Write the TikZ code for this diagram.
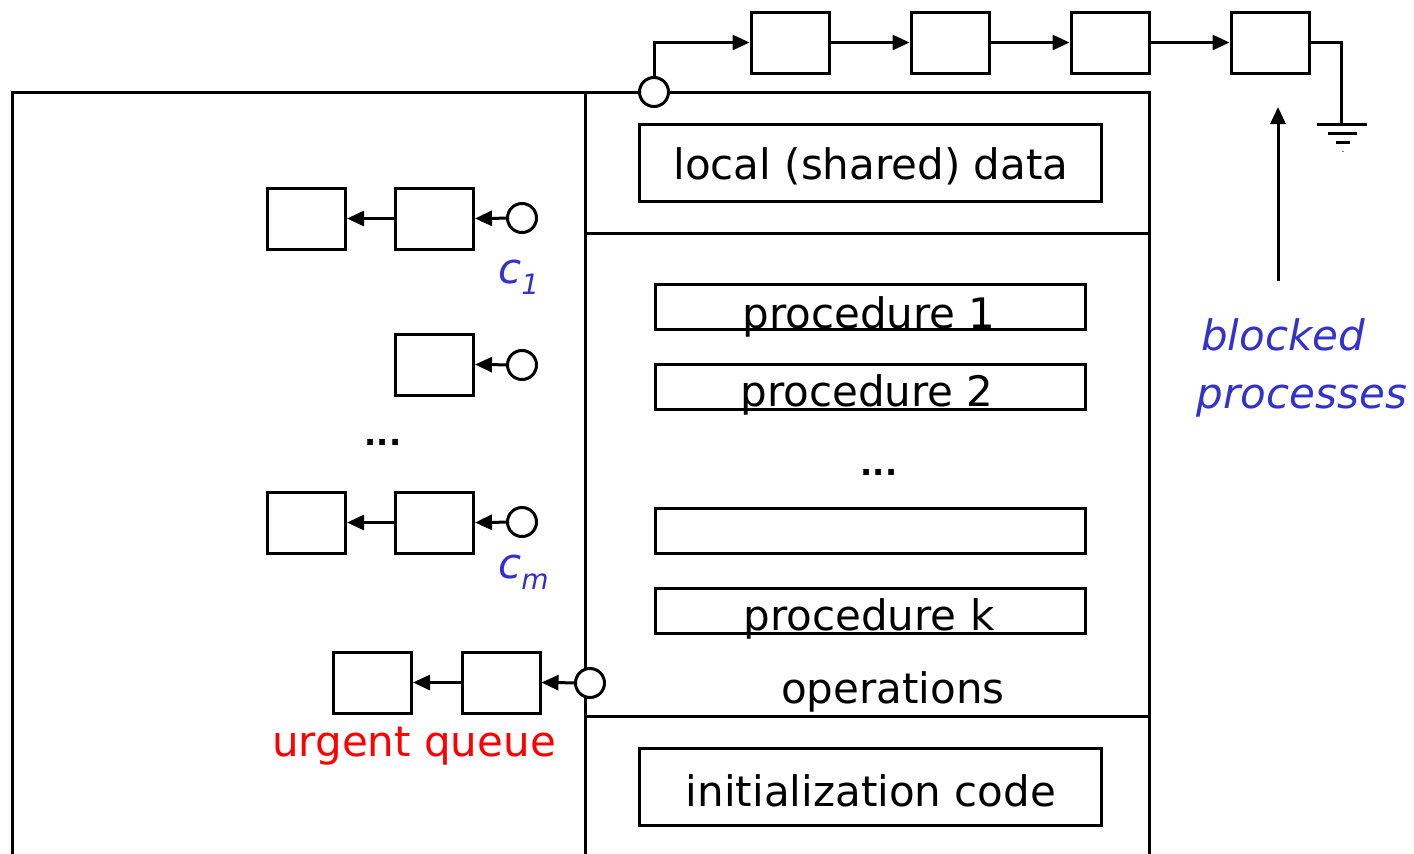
\documentclass[tikz,border=0pt]{standalone}
\usepackage{fontspec}
\setmainfont{DejaVu Sans}
\usetikzlibrary{arrows.meta}
\definecolor{lblue}{RGB}{51,51,204}
\definecolor{lred}{RGB}{255,0,0}
\tikzset{
  ln/.style={line width=3pt},
  arr/.style={ln,-{Triangle[length=17pt,width=15pt]}},
  qbox/.style={ln,draw,minimum width=78pt,minimum height=61pt,inner sep=0pt},
  pbox/.style={ln,draw,minimum width=430pt,minimum height=45pt,inner sep=0pt},
  bbox/.style={ln,draw,minimum width=462pt,minimum height=77pt,inner sep=0pt},
  circ/.style={ln,draw,fill=white,circle,minimum size=29pt,inner sep=0pt},
  txt/.style={font=\fontsize{42}{42}\selectfont,inner sep=0pt},
  itx/.style={font=\fontsize{42}{42}\selectfont\itshape,inner sep=0pt,text=lblue},
}
\begin{document}
\begin{tikzpicture}[x=1pt,y=-1pt]
\useasboundingbox (0,0) rectangle (1414,854);
% frame
\coordinate (fTL) at (12,92);
\coordinate (fBL) at (12,856);
\coordinate (cTL) at (585,92);
\coordinate (cTR) at (1149,92);
\coordinate (cBL) at (585,856);
\coordinate (cBR) at (1149,856);
\draw[ln] (fBL) -- (fTL) -- (cTR) -- (cBR);
\draw[ln] (cTL) -- (cBL);
\coordinate (d1l) at (585,233); \coordinate (d1r) at (1149,233);
\coordinate (d2l) at (585,716); \coordinate (d2r) at (1149,716);
\draw[ln] (d1l) -- (d1r);
\draw[ln] (d2l) -- (d2r);
% top chain
\node[circ] (c0) at (654,92) {};
\node[qbox] (t1) at (790,42.5) {};
\node[qbox] (t2) at (950,42.5) {};
\node[qbox] (t3) at (1110,42.5) {};
\node[qbox] (t4) at (1270,42.5) {};
\draw[arr] (c0.north) |- (t1.west);
\draw[arr] (t1.east) -- (t2.west);
\draw[arr] (t2.east) -- (t3.west);
\draw[arr] (t3.east) -- (t4.west);
\coordinate (g0) at (1341,124);
\draw[ln] (t4.east) -| (g0);
\draw[ln] (1317,124) -- (1367,124);
\draw[ln] (1328,133) -- (1357,133);
\draw[ln] (1336,142) -- (1350,142);
\draw[line width=0.8pt,gray] (1342,151) -- (1344,151);
\coordinate (bs) at (1278,281);
\coordinate (be) at (1278,107);
\draw[arr] (bs) -- (be);
\node[itx,anchor=base] (bl1) at (1283,350) {blocked};
\node[itx,anchor=base] (bl2) at (1302,408) {processes};
% inner boxes
\node[bbox] (ld) at (870,162.5) {};
\node[txt] (ldt) at (871,166) {local (shared) data};
\node[pbox] (p1) at (870,306.5) {};
\node[txt,anchor=base] (p1t) at (869,328) {procedure 1};
\node[pbox] (p2) at (870,386.5) {};
\node[txt,anchor=base] (p2t) at (867,406) {procedure 2};
\node[txt,font=\fontsize{32}{32}\selectfont\bfseries] (pd) at (879,472) {...};
\node[pbox] (p3) at (870,530.5) {};
\node[pbox] (pk) at (870,610.5) {};
\node[txt,anchor=base] (pkt) at (869,630) {procedure k};
\node[txt,anchor=base] (ops) at (893,703) {operations};
\node[bbox] (ic) at (870,786.5) {};
\node[txt] (ict) at (871,791) {initialization code};
% condition queues
\node[qbox] (a1) at (306.5,218.5) {};
\node[qbox] (b1) at (434.5,218.5) {};
\node[circ] (q1) at (522,218) {};
\draw[arr] (q1) -- (b1.east);
\draw[arr] (b1.west) -- (a1.east);
\node[itx,anchor=base west] (c1l) at (498,283) {c\raisebox{-11pt}{\fontsize{28}{28}\selectfont 1}};
\node[qbox] (b2) at (434.5,364.5) {};
\node[circ] (q2) at (522,365) {};
\draw[arr] (q2) -- (b2.east);
\node[txt,font=\fontsize{32}{32}\selectfont\bfseries] (ld2) at (383,442) {...};
\node[qbox] (a3) at (306.5,522.5) {};
\node[qbox] (b3) at (434.5,522.5) {};
\node[circ] (q3) at (522,522) {};
\draw[arr] (q3) -- (b3.east);
\draw[arr] (b3.west) -- (a3.east);
\node[itx,anchor=base west] (cml) at (498,578) {c\raisebox{-11pt}{\fontsize{28}{28}\selectfont m}};
% urgent queue
\node[qbox] (ua) at (372.5,682.5) {};
\node[qbox] (ub) at (501,682.5) {};
\node[circ] (uq) at (590,683) {};
\draw[arr] (uq) -- (ub.east);
\draw[arr] (ub.west) -- (ua.east);
\node[txt,anchor=base,text=lred] (ul) at (414,756) {urgent queue};
\end{tikzpicture}
\end{document}
